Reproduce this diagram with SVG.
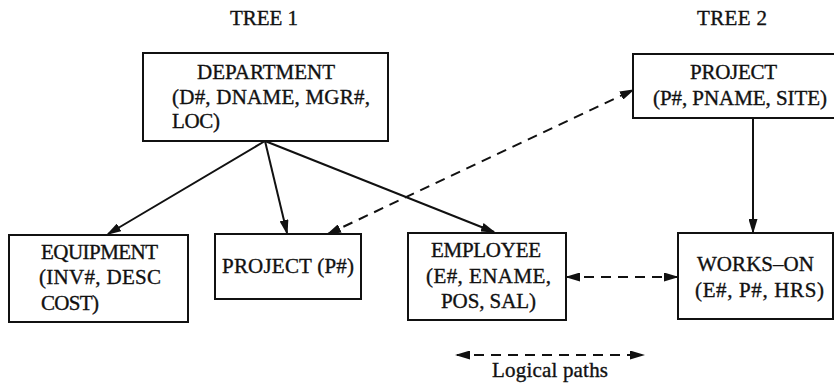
<svg xmlns="http://www.w3.org/2000/svg" width="834" height="384" viewBox="0 0 834 384">
  <style>
    .box { fill: #ffffff; stroke: #111111; stroke-width: 2; }
    .lbl { font-family: "Liberation Serif", "Times New Roman", serif; font-size: 21px; fill: #111111; stroke: #111111; stroke-width: 0.35; }
    .edge { fill: none; stroke: #111111; stroke-width: 2; }
    .solid { marker-end: url(#head); }
    .dash { stroke-dasharray: 10 7; marker-start: url(#head); marker-end: url(#head); }
  </style>
  <defs>
    <marker id="head" viewBox="0 0 15 9" refX="13" refY="4.5" markerWidth="15" markerHeight="9" markerUnits="userSpaceOnUse" orient="auto-start-reverse">
      <path d="M0,0 L15,4.5 L0,9 Z" fill="#111111"/>
    </marker>
  </defs>

  <rect width="834" height="384" fill="#ffffff"/>

  <!-- tree headings -->
  <text class="lbl" x="230" y="25" textLength="68">TREE 1</text>
  <text class="lbl" x="697" y="25" textLength="70">TREE 2</text>

  <!-- connectors -->
  <g id="connectors">
    <line class="edge solid" x1="265" y1="141" x2="108" y2="234"/>
    <line class="edge solid" x1="265" y1="141" x2="287" y2="233"/>
    <line class="edge solid" x1="265" y1="141" x2="494" y2="232"/>
    <line class="edge solid" x1="753" y1="118" x2="753" y2="232"/>
    <line class="edge dash" x1="328" y1="234" x2="633" y2="90"/>
    <line class="edge dash" x1="567" y1="277" x2="677" y2="277"/>
    <line class="edge dash" x1="457" y1="355" x2="643" y2="355"/>
  </g>

  <!-- Tree 1 -->
  <g id="department">
    <rect class="box" x="143" y="53" width="245" height="88"/>
    <text class="lbl" x="197" y="79" textLength="138">DEPARTMENT</text>
    <text class="lbl" x="172" y="104" textLength="198">(D#, DNAME, MGR#,</text>
    <text class="lbl" x="172" y="128" textLength="48">LOC)</text>
  </g>

  <g id="equipment">
    <rect class="box" x="9" y="235" width="179" height="87"/>
    <text class="lbl" x="41" y="259" textLength="117">EQUIPMENT</text>
    <text class="lbl" x="39" y="284" textLength="122">(INV#, DESC</text>
    <text class="lbl" x="41" y="310" textLength="58">COST)</text>
  </g>

  <g id="project-p">
    <rect class="box" x="215" y="234" width="146" height="65"/>
    <text class="lbl" x="222" y="273" textLength="132">PROJECT (P#)</text>
  </g>

  <g id="employee">
    <rect class="box" x="408" y="233" width="158" height="87"/>
    <text class="lbl" x="431" y="257" textLength="110">EMPLOYEE</text>
    <text class="lbl" x="426" y="283" textLength="125">(E#, ENAME,</text>
    <text class="lbl" x="441" y="308" textLength="95">POS, SAL)</text>
  </g>

  <!-- Tree 2 -->
  <g id="project">
    <rect class="box" x="633" y="54" width="202" height="64"/>
    <text class="lbl" x="690" y="79" textLength="87">PROJECT</text>
    <text class="lbl" x="653" y="105" textLength="174">(P#, PNAME, SITE)</text>
  </g>

  <g id="works-on">
    <rect class="box" x="678" y="233" width="155" height="86"/>
    <text class="lbl" x="697" y="271" textLength="117">WORKS–ON</text>
    <text class="lbl" x="695" y="297" textLength="129">(E#, P#, HRS)</text>
  </g>

  <!-- legend -->
  <g id="legend">
    <text class="lbl" x="492" y="377" textLength="116">Logical paths</text>
  </g>
</svg>
